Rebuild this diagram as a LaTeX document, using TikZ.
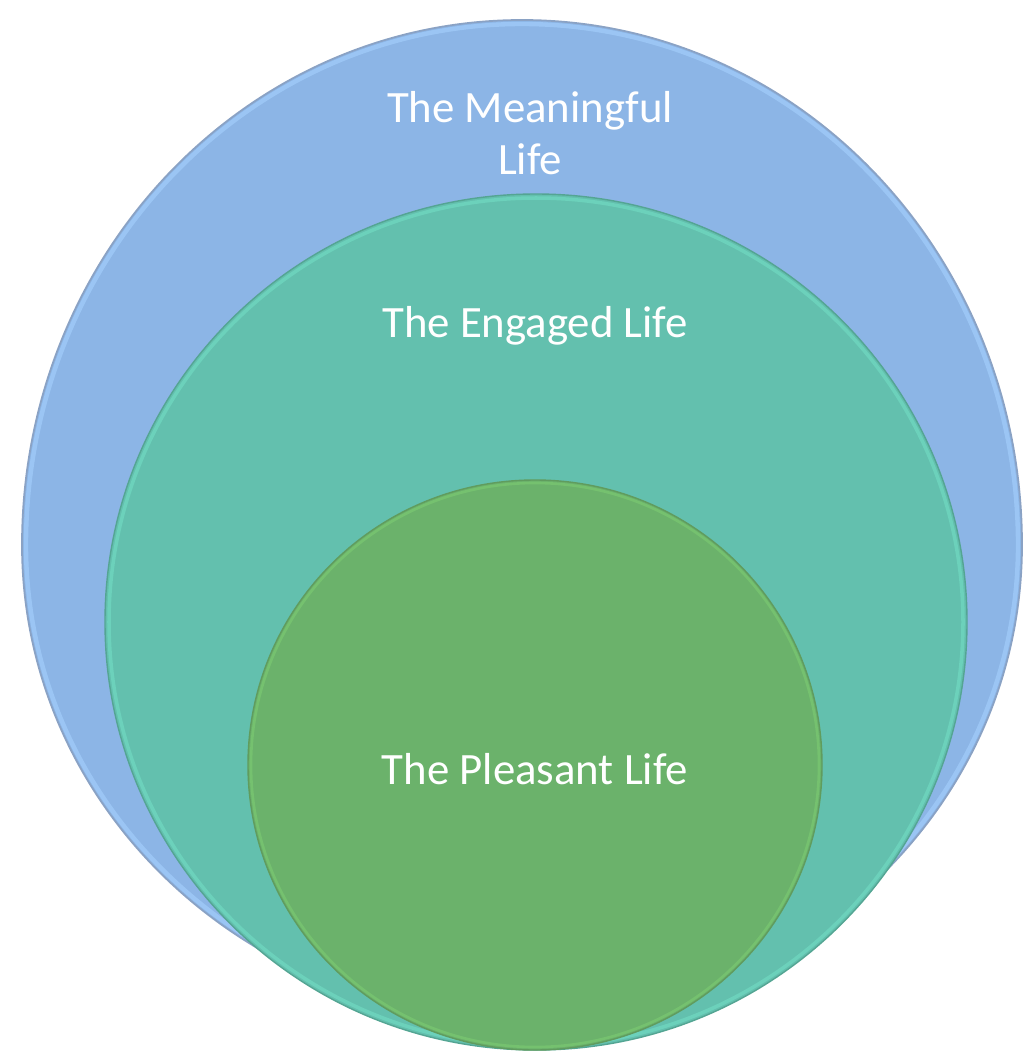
\documentclass[tikz,border=0pt]{standalone}
\usepackage{fontspec}
\setmainfont{Carlito}
\usepackage{xcolor}
\usepackage{tikz}

\definecolor{meanblue}{HTML}{8CB5E6}
\definecolor{meanedge}{HTML}{8AA2C4}
\definecolor{meanlight}{HTML}{A2CDFA}
\definecolor{engteal}{HTML}{63C0AE}
\definecolor{engedge}{HTML}{54A593}
\definecolor{englight}{HTML}{72DDC4}
\definecolor{pleagreen}{HTML}{6BB26B}
\definecolor{pleaedge}{HTML}{609C5E}
\definecolor{plealight}{HTML}{7CCB72}

\begin{document}
\begin{tikzpicture}[x=0.02cm, y=-0.02cm,
    lifetext/.style={text=white, font=\fontsize{25.5}{30}\selectfont, align=center}]

    \useasboundingbox (0,0) rectangle (1023,1054);

    % Cerchio esterno
    \fill[meanblue] (22,545) arc[start angle=180, end angle=360, x radius=500, y radius=525]
        arc[start angle=0, end angle=180, x radius=500, y radius=475];
    \draw[meanlight, line width=2.5pt, opacity=0.7] (26,545) arc[start angle=180, end angle=360, x radius=496, y radius=521]
        arc[start angle=0, end angle=180, x radius=496, y radius=471];
    \draw[meanedge, line width=1pt] (22,545) arc[start angle=180, end angle=360, x radius=500, y radius=525]
        arc[start angle=0, end angle=180, x radius=500, y radius=475];

    % Cerchio medio
    \fill[engteal] (536,622) ellipse [x radius=431, y radius=428];
    \draw[englight, line width=2pt, opacity=0.6] (536,622) ellipse [x radius=427, y radius=424];
    \draw[engedge, line width=0.8pt] (536,622) ellipse [x radius=431, y radius=428];

    % Cerchio interno
    \fill[pleagreen] (535,765) ellipse [x radius=287, y radius=285];
    \draw[plealight, line width=1.5pt, opacity=0.6] (535,765) ellipse [x radius=284, y radius=282];
    \draw[pleaedge, line width=0.8pt] (535,765) ellipse [x radius=287, y radius=285];

    % Testi
    \node[lifetext] (meaning) at (530,133) {The Meaningful\\Life};
    \node[lifetext] (engaged) at (535,326) {The Engaged Life};
    \node[lifetext] (pleasant) at (535,769) {The Pleasant Life};
\end{tikzpicture}
\end{document}
